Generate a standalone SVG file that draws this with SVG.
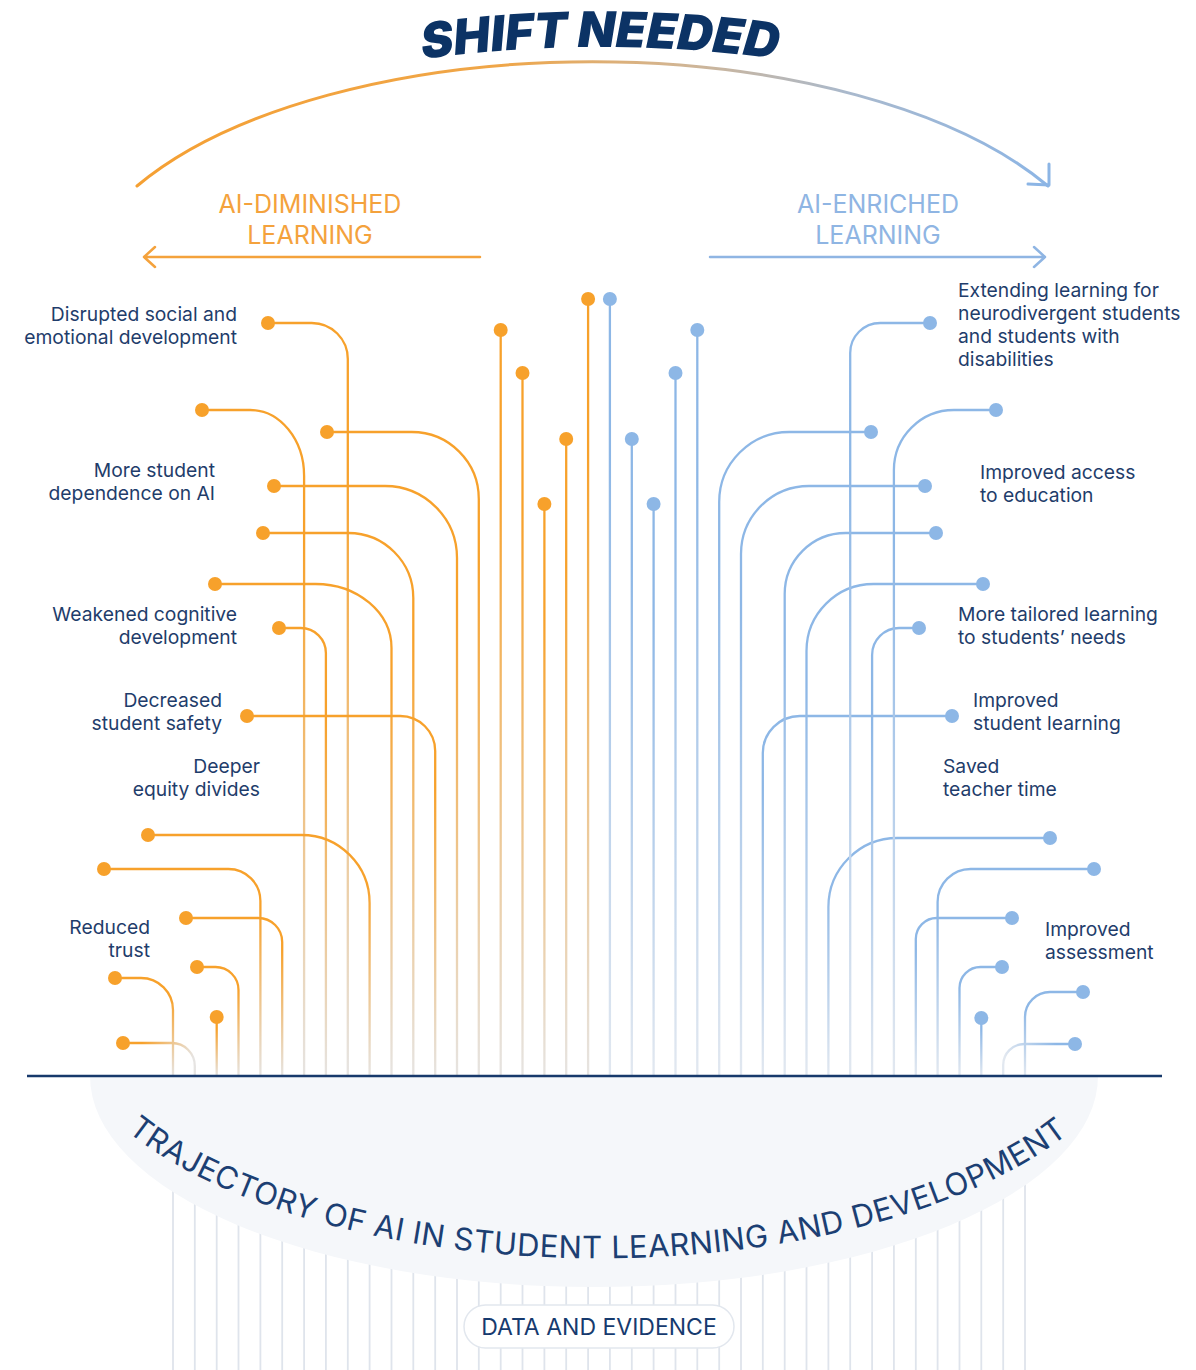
<svg xmlns="http://www.w3.org/2000/svg" width="1196" height="1370" viewBox="0 0 1196 1370">
<style>
.lbl{font-family:Inter,"Noto Sans",sans-serif;font-size:19.3px;fill:#1f3d6b}
.r{text-anchor:end}
.hd{font-family:Inter,"Noto Sans",sans-serif;font-size:25px;text-anchor:middle}
.ln{fill:none;stroke-width:2.3;stroke-linecap:round}
.od{fill:#f7a12b}
.bd{fill:#8db7e6}
</style>
<defs>
<linearGradient id="fo" gradientUnits="userSpaceOnUse" x1="0" y1="300" x2="0" y2="1076">
<stop offset="0" stop-color="#f7a12b"/><stop offset="0.2" stop-color="#f7a12b"/><stop offset="1" stop-color="#e6e4e2"/>
</linearGradient>
<linearGradient id="fb" gradientUnits="userSpaceOnUse" x1="0" y1="300" x2="0" y2="1076">
<stop offset="0" stop-color="#8db7e6"/><stop offset="0.2" stop-color="#8db7e6"/><stop offset="1" stop-color="#e2e8f0"/>
</linearGradient>
<linearGradient id="o0" href="#fo" y1="978"/>
<linearGradient id="o1" href="#fo" x1="128" y1="1043" x2="192" y2="1062"/>
<linearGradient id="o2" href="#fo" y1="1017"/>
<linearGradient id="o3" href="#fo" y1="967"/>
<linearGradient id="o4" href="#fo" y1="869"/>
<linearGradient id="o5" href="#fo" y1="918"/>
<linearGradient id="o6" href="#fo" y1="410"/>
<linearGradient id="o7" href="#fo" y1="628"/>
<linearGradient id="o8" href="#fo" y1="323"/>
<linearGradient id="o9" href="#fo" y1="835"/>
<linearGradient id="o10" href="#fo" y1="584"/>
<linearGradient id="o11" href="#fo" y1="533"/>
<linearGradient id="o12" href="#fo" y1="716"/>
<linearGradient id="o13" href="#fo" y1="486"/>
<linearGradient id="o14" href="#fo" y1="432"/>
<linearGradient id="o15" href="#fo" y1="330"/>
<linearGradient id="o16" href="#fo" y1="373"/>
<linearGradient id="o17" href="#fo" y1="504"/>
<linearGradient id="o18" href="#fo" y1="439"/>
<linearGradient id="o19" href="#fo" y1="299"/>
<linearGradient id="b20" href="#fb" y1="299"/>
<linearGradient id="b21" href="#fb" y1="439"/>
<linearGradient id="b22" href="#fb" y1="504"/>
<linearGradient id="b23" href="#fb" y1="373"/>
<linearGradient id="b24" href="#fb" y1="330"/>
<linearGradient id="b25" href="#fb" y1="432"/>
<linearGradient id="b26" href="#fb" y1="486"/>
<linearGradient id="b27" href="#fb" y1="716"/>
<linearGradient id="b28" href="#fb" y1="533"/>
<linearGradient id="b29" href="#fb" y1="584"/>
<linearGradient id="b30" href="#fb" y1="838"/>
<linearGradient id="b31" href="#fb" y1="323"/>
<linearGradient id="b32" href="#fb" y1="628"/>
<linearGradient id="b33" href="#fb" y1="410"/>
<linearGradient id="b34" href="#fb" y1="918"/>
<linearGradient id="b35" href="#fb" y1="869"/>
<linearGradient id="b36" href="#fb" y1="967"/>
<linearGradient id="b37" href="#fb" y1="1018"/>
<linearGradient id="b38" href="#fb" x1="1070" y1="1044" x2="1006" y2="1062"/>
<linearGradient id="b39" href="#fb" y1="992"/>
<linearGradient id="arcg" gradientUnits="userSpaceOnUse" x1="137" y1="0" x2="1050" y2="0">
<stop offset="0" stop-color="#f5a033"/><stop offset="0.4" stop-color="#efa649"/><stop offset="0.58" stop-color="#d4b48e"/><stop offset="0.78" stop-color="#a9b9cd"/><stop offset="1" stop-color="#8cb5e5"/>
</linearGradient>
<path id="shiftPath" d="M 390,64 A 1300 1300 0 0 1 810,64"/>
<path id="trajPath" d="M 124,1129 A 548 258 0 0 0 1074,1129"/>
</defs>

<rect width="1196" height="1370" fill="#ffffff"/>

<!-- data lines below the baseline -->
<g id="data-lines" fill="none" stroke="#dfe4ec" stroke-width="1.8">
<path d="M173,1076V1370M194.8,1076V1370M216.7,1076V1370M238.5,1076V1370M260.4,1076V1370M282.2,1076V1370M304.1,1076V1370M325.9,1076V1370M347.8,1076V1370M369.6,1076V1370M391.5,1076V1370M413.3,1076V1370M435.2,1076V1370M457,1076V1370M478.8,1076V1370M500.7,1076V1370M522.5,1076V1370M544.4,1076V1370M566.2,1076V1370M588.1,1076V1370M609.9,1076V1370M631.8,1076V1370M653.6,1076V1370M675.5,1076V1370M697.3,1076V1370M719.2,1076V1370M741,1076V1370M762.8,1076V1370M784.7,1076V1370M806.5,1076V1370M828.4,1076V1370M850.2,1076V1370M872.1,1076V1370M893.9,1076V1370M915.8,1076V1370M937.6,1076V1370M959.5,1076V1370M981.3,1076V1370M1003.2,1076V1370M1025,1076V1370"/>
</g>

<!-- trajectory band -->
<g id="trajectory">
<path d="M 90,1076 A 504 211 0 0 0 1098,1076 Z" fill="#f5f7fa"/>
<text font-family="Inter,'Noto Sans',sans-serif" font-size="31" fill="#1c3f73"><textPath href="#trajPath" startOffset="4" textLength="990" lengthAdjust="spacing">TRAJECTORY OF AI IN STUDENT LEARNING AND DEVELOPMENT</textPath></text>
</g>

<!-- data and evidence pill -->
<g id="data-evidence">
<rect x="464" y="1305" width="270" height="43" rx="21.5" fill="#ffffff" stroke="#e2e7ee" stroke-width="1.5"/>
<text x="599" y="1335" font-family="Inter,'Noto Sans',sans-serif" font-size="23" fill="#163a6e" text-anchor="middle">DATA AND EVIDENCE</text>
</g>

<!-- connectors -->
<g id="connectors" class="ln">
<path class="ln" stroke="url(#o0)" d="M115,978 H141 A32 32 0 0 1 173,1010 V1076"/>
<path class="ln" stroke="url(#o1)" d="M123,1043 H171.8 A23 23 0 0 1 194.8,1066 V1076"/>
<path class="ln" stroke="url(#o2)" d="M216.7,1017 V1076"/>
<path class="ln" stroke="url(#o3)" d="M197,967 H215.5 A23 23 0 0 1 238.5,990 V1076"/>
<path class="ln" stroke="url(#o4)" d="M104,869 H228.4 A32 32 0 0 1 260.4,901 V1076"/>
<path class="ln" stroke="url(#o5)" d="M186,918 H258.2 A24 24 0 0 1 282.2,942 V1076"/>
<path class="ln" stroke="url(#o6)" d="M202,410 H250.1 A54 66 0 0 1 304.1,476 V1076"/>
<path class="ln" stroke="url(#o7)" d="M279,628 H300.9 A25 25 0 0 1 325.9,653 V1076"/>
<path class="ln" stroke="url(#o8)" d="M268,323 H311.8 A36 36 0 0 1 347.8,359 V1076"/>
<path class="ln" stroke="url(#o9)" d="M148,835 H301.6 A68 68 0 0 1 369.6,903 V1076"/>
<path class="ln" stroke="url(#o10)" d="M215,584 H315.5 A76 64 0 0 1 391.5,648 V1076"/>
<path class="ln" stroke="url(#o11)" d="M263,533 H348.3 A65 65 0 0 1 413.3,598 V1076"/>
<path class="ln" stroke="url(#o12)" d="M247,716 H400.2 A35 35 0 0 1 435.2,751 V1076"/>
<path class="ln" stroke="url(#o13)" d="M274,486 H385 A72 72 0 0 1 457,558 V1076"/>
<path class="ln" stroke="url(#o14)" d="M327,432 H411.8 A67 67 0 0 1 478.8,499 V1076"/>
<path class="ln" stroke="url(#o15)" d="M500.7,330 V1076"/>
<path class="ln" stroke="url(#o16)" d="M522.5,373 V1076"/>
<path class="ln" stroke="url(#o17)" d="M544.4,504 V1076"/>
<path class="ln" stroke="url(#o18)" d="M566.2,439 V1076"/>
<path class="ln" stroke="url(#o19)" d="M588.1,299 V1076"/>
<path class="ln" stroke="url(#b20)" d="M609.9,299 V1076"/>
<path class="ln" stroke="url(#b21)" d="M631.8,439 V1076"/>
<path class="ln" stroke="url(#b22)" d="M653.6,504 V1076"/>
<path class="ln" stroke="url(#b23)" d="M675.5,373 V1076"/>
<path class="ln" stroke="url(#b24)" d="M697.3,330 V1076"/>
<path class="ln" stroke="url(#b25)" d="M871,432 H789.2 A70 70 0 0 0 719.2,502 V1076"/>
<path class="ln" stroke="url(#b26)" d="M925,486 H809 A68 68 0 0 0 741,554 V1076"/>
<path class="ln" stroke="url(#b27)" d="M952,716 H799.8 A37 37 0 0 0 762.8,753 V1076"/>
<path class="ln" stroke="url(#b28)" d="M936,533 H845.7 A61 61 0 0 0 784.7,594 V1076"/>
<path class="ln" stroke="url(#b29)" d="M983,584 H873.5 A67 67 0 0 0 806.5,651 V1076"/>
<path class="ln" stroke="url(#b30)" d="M1050,838 H897.4 A69 69 0 0 0 828.4,907 V1076"/>
<path class="ln" stroke="url(#b31)" d="M930,323 H880.2 A30 30 0 0 0 850.2,353 V1076"/>
<path class="ln" stroke="url(#b32)" d="M919,628 H899.1 A27 27 0 0 0 872.1,655 V1076"/>
<path class="ln" stroke="url(#b33)" d="M996,410 H953.9 A60 60 0 0 0 893.9,470 V1076"/>
<path class="ln" stroke="url(#b34)" d="M1012,918 H936.8 A21 21 0 0 0 915.8,939 V1076"/>
<path class="ln" stroke="url(#b35)" d="M1094,869 H970.6 A33 33 0 0 0 937.6,902 V1076"/>
<path class="ln" stroke="url(#b36)" d="M1002,967 H980.5 A21 21 0 0 0 959.5,988 V1076"/>
<path class="ln" stroke="url(#b37)" d="M981.3,1018 V1076"/>
<path class="ln" stroke="url(#b38)" d="M1075,1044 H1024.2 A21 21 0 0 0 1003.2,1065 V1076"/>
<path class="ln" stroke="url(#b39)" d="M1083,992 H1050 A25 25 0 0 0 1025,1017 V1076"/>
</g>

<!-- dots -->
<g id="dots-left" class="od">
<circle cx="115" cy="978" r="7"/><circle cx="123" cy="1043" r="7"/><circle cx="216.7" cy="1017" r="7"/><circle cx="197" cy="967" r="7"/><circle cx="104" cy="869" r="7"/><circle cx="186" cy="918" r="7"/><circle cx="202" cy="410" r="7"/><circle cx="279" cy="628" r="7"/><circle cx="268" cy="323" r="7"/><circle cx="148" cy="835" r="7"/><circle cx="215" cy="584" r="7"/><circle cx="263" cy="533" r="7"/><circle cx="247" cy="716" r="7"/><circle cx="274" cy="486" r="7"/><circle cx="327" cy="432" r="7"/><circle cx="500.7" cy="330" r="7"/><circle cx="522.5" cy="373" r="7"/><circle cx="544.4" cy="504" r="7"/><circle cx="566.2" cy="439" r="7"/><circle cx="588.1" cy="299" r="7"/>
</g>
<g id="dots-right" class="bd">
<circle cx="609.9" cy="299" r="7"/><circle cx="631.8" cy="439" r="7"/><circle cx="653.6" cy="504" r="7"/><circle cx="675.5" cy="373" r="7"/><circle cx="697.3" cy="330" r="7"/><circle cx="871" cy="432" r="7"/><circle cx="925" cy="486" r="7"/><circle cx="952" cy="716" r="7"/><circle cx="936" cy="533" r="7"/><circle cx="983" cy="584" r="7"/><circle cx="1050" cy="838" r="7"/><circle cx="930" cy="323" r="7"/><circle cx="919" cy="628" r="7"/><circle cx="996" cy="410" r="7"/><circle cx="1012" cy="918" r="7"/><circle cx="1094" cy="869" r="7"/><circle cx="1002" cy="967" r="7"/><circle cx="981.3" cy="1018" r="7"/><circle cx="1075" cy="1044" r="7"/><circle cx="1083" cy="992" r="7"/>
</g>

<!-- baseline -->
<line id="baseline" x1="27" y1="1076" x2="1162" y2="1076" stroke="#17396b" stroke-width="2.5"/>

<!-- shift needed -->
<g id="shift-needed">
<path d="M 137,186 A 520 240 0 0 1 1048,186" fill="none" stroke="url(#arcg)" stroke-width="3" stroke-linecap="round"/>
<path d="M 1049,164 L 1049,185 L 1028,184" fill="none" stroke="#8cb5e5" stroke-width="3" stroke-linecap="round" stroke-linejoin="round"/>
<text font-family="Inter,'Noto Sans',sans-serif" font-size="49" font-weight="900" font-style="italic" fill="#0c3365" text-anchor="middle"><textPath href="#shiftPath" startOffset="50%">SHIFT NEEDED</textPath></text>
</g>

<!-- direction headers -->
<g id="ai-diminished">
<text class="hd" fill="#f4a23c"><tspan x="310" y="213">AI-DIMINISHED</tspan><tspan x="310" y="244">LEARNING</tspan></text>
<path d="M480,257 H144 M155,247 L144,257 L155,267" fill="none" stroke="#f4a23c" stroke-width="2.5" stroke-linecap="round" stroke-linejoin="round"/>
</g>
<g id="ai-enriched">
<text class="hd" fill="#8fb5e3"><tspan x="878" y="213">AI-ENRICHED</tspan><tspan x="878" y="244">LEARNING</tspan></text>
<path d="M710,257 H1045 M1034,247 L1045,257 L1034,267" fill="none" stroke="#8fb5e3" stroke-width="2.5" stroke-linecap="round" stroke-linejoin="round"/>
</g>

<!-- left labels -->
<g id="n-social"><text class="lbl r"><tspan x="237" y="320.5">Disrupted social and</tspan><tspan x="237" y="343.5">emotional development</tspan></text></g>
<g id="n-dependence"><text class="lbl r"><tspan x="215" y="476.5">More student</tspan><tspan x="215" y="499.5">dependence on AI</tspan></text></g>
<g id="n-cognitive"><text class="lbl r"><tspan x="237" y="620.5">Weakened cognitive</tspan><tspan x="237" y="643.5">development</tspan></text></g>
<g id="n-safety"><text class="lbl r"><tspan x="222" y="706.5">Decreased</tspan><tspan x="222" y="729.5">student safety</tspan></text></g>
<g id="n-equity"><text class="lbl r"><tspan x="260" y="772.5">Deeper</tspan><tspan x="260" y="795.5">equity divides</tspan></text></g>
<g id="n-trust"><text class="lbl r"><tspan x="150" y="933.5">Reduced</tspan><tspan x="150" y="956.5">trust</tspan></text></g>

<!-- right labels -->
<g id="n-neuro"><text class="lbl"><tspan x="958" y="297">Extending learning for</tspan><tspan x="958" y="320">neurodivergent students</tspan><tspan x="958" y="343">and students with</tspan><tspan x="958" y="366">disabilities</tspan></text></g>
<g id="n-access"><text class="lbl"><tspan x="980" y="478.5">Improved access</tspan><tspan x="980" y="501.5">to education</tspan></text></g>
<g id="n-tailored"><text class="lbl"><tspan x="958" y="620.5">More tailored learning</tspan><tspan x="958" y="643.5">to students’ needs</tspan></text></g>
<g id="n-learning"><text class="lbl"><tspan x="973" y="706.5">Improved</tspan><tspan x="973" y="729.5">student learning</tspan></text></g>
<g id="n-time"><text class="lbl"><tspan x="943" y="772.5">Saved</tspan><tspan x="943" y="795.5">teacher time</tspan></text></g>
<g id="n-assessment"><text class="lbl"><tspan x="1045" y="936">Improved</tspan><tspan x="1045" y="959">assessment</tspan></text></g>
</svg>
